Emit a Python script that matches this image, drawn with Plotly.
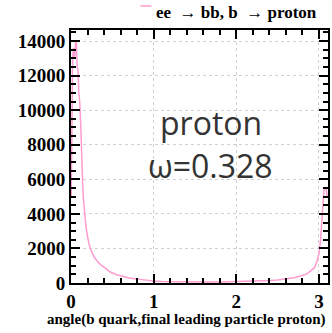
import plotly.graph_objects as go

angle = [0.003, 0.012, 0.02, 0.03, 0.045, 0.055, 0.065, 0.075, 0.085, 0.095, 0.105, 0.115,
         0.125, 0.135, 0.145, 0.155, 0.165, 0.18, 0.2, 0.22, 0.25, 0.28, 0.32, 0.36, 0.42,
         0.47, 0.55, 0.63, 0.72, 0.83, 0.92, 1.0, 1.1, 1.25, 1.4, 1.6, 1.8, 2.0, 2.2, 2.4,
         2.5, 2.6, 2.7, 2.78, 2.85, 2.9, 2.95, 2.98, 3.0, 3.02, 3.035, 3.045, 3.06, 3.075,
         3.09, 3.1]
counts = [5000, 11500, 13000, 13600, 13000, 13950, 13900, 12500, 12300, 11000, 10500, 9500,
          7900, 6800, 5300, 4600, 4000, 3300, 2700, 2200, 1800, 1500, 1250, 1050, 850,
          650, 480, 370, 280, 210, 150, 115, 90, 75, 65, 60, 65, 80, 110, 150,
          180, 230, 300, 400, 520, 700, 900, 1300, 1700, 2500, 3600, 4600, 5300, 5500,
          5400, 5000]

serif = "Liberation Serif"
pink = "#ff9ccf"
legend_label = "ee\u00a0 \u2192 bb, b\u00a0 \u2192 proton"

fig = go.Figure()
fig.add_trace(go.Scatter(
    x=angle, y=counts, mode="lines",
    line=dict(color=pink, width=1.5),
    name=legend_label, showlegend=False,
))

# legend (short line + bold serif label above the plot)
fig.add_shape(type="line", xref="paper", yref="paper",
              x0=(141 - 71) / 259, x1=(152 - 71) / 259, y0=1.095, y1=1.095,
              line=dict(color=pink, width=1.5))
fig.add_annotation(x=(321 - 71) / 259, y=1.07, xref="paper", yref="paper",
                   xanchor="right", yanchor="middle", showarrow=False,
                   text="<b>" + legend_label + "</b>",
                   font=dict(family=serif, size=17, color="black"))

fig.add_annotation(x=0.543, y=0.635, xref="paper", yref="paper", text="proton",
                   showarrow=False, font=dict(family="Open Sans", size=32, color="#333333"))
fig.add_annotation(x=0.543, y=0.465, xref="paper", yref="paper", text="\u03c9=0.328",
                   showarrow=False, font=dict(family="Open Sans", size=32, color="#333333"))

# x-axis title, right-aligned to the plot edge as in the reference
fig.add_annotation(x=1, y=-0.145, xref="paper", yref="paper", xanchor="right", yanchor="middle",
                   showarrow=False, text="<b>angle(b quark,final leading particle proton)</b>",
                   font=dict(family=serif, size=15, color="black"))

axis_common = dict(
    showline=True, linecolor="black", linewidth=2, mirror="allticks",
    ticks="inside", ticklen=9, tickwidth=1.5, tickcolor="black",
    showgrid=True, gridcolor="#d0d0d0", griddash="dot", gridwidth=1,
    zeroline=False,
    tickfont=dict(family=serif, size=19, color="black", weight="bold"),
)

fig.update_xaxes(range=[0, 3.11], dtick=1, tick0=0,
                 minor=dict(dtick=0.2, ticks="inside", ticklen=5, tickcolor="black", showgrid=False),
                 **axis_common)
fig.update_yaxes(range=[0, 14640], dtick=2000, tick0=0, tickformat="d",
                 minor=dict(dtick=500, ticks="inside", ticklen=5, tickcolor="black", showgrid=False),
                 **axis_common)

fig.update_layout(
    width=332, height=333,
    margin=dict(l=71, r=2, t=30, b=50),
    plot_bgcolor="white", paper_bgcolor="white",
    showlegend=False,
)

fig.write_html("out.html")
